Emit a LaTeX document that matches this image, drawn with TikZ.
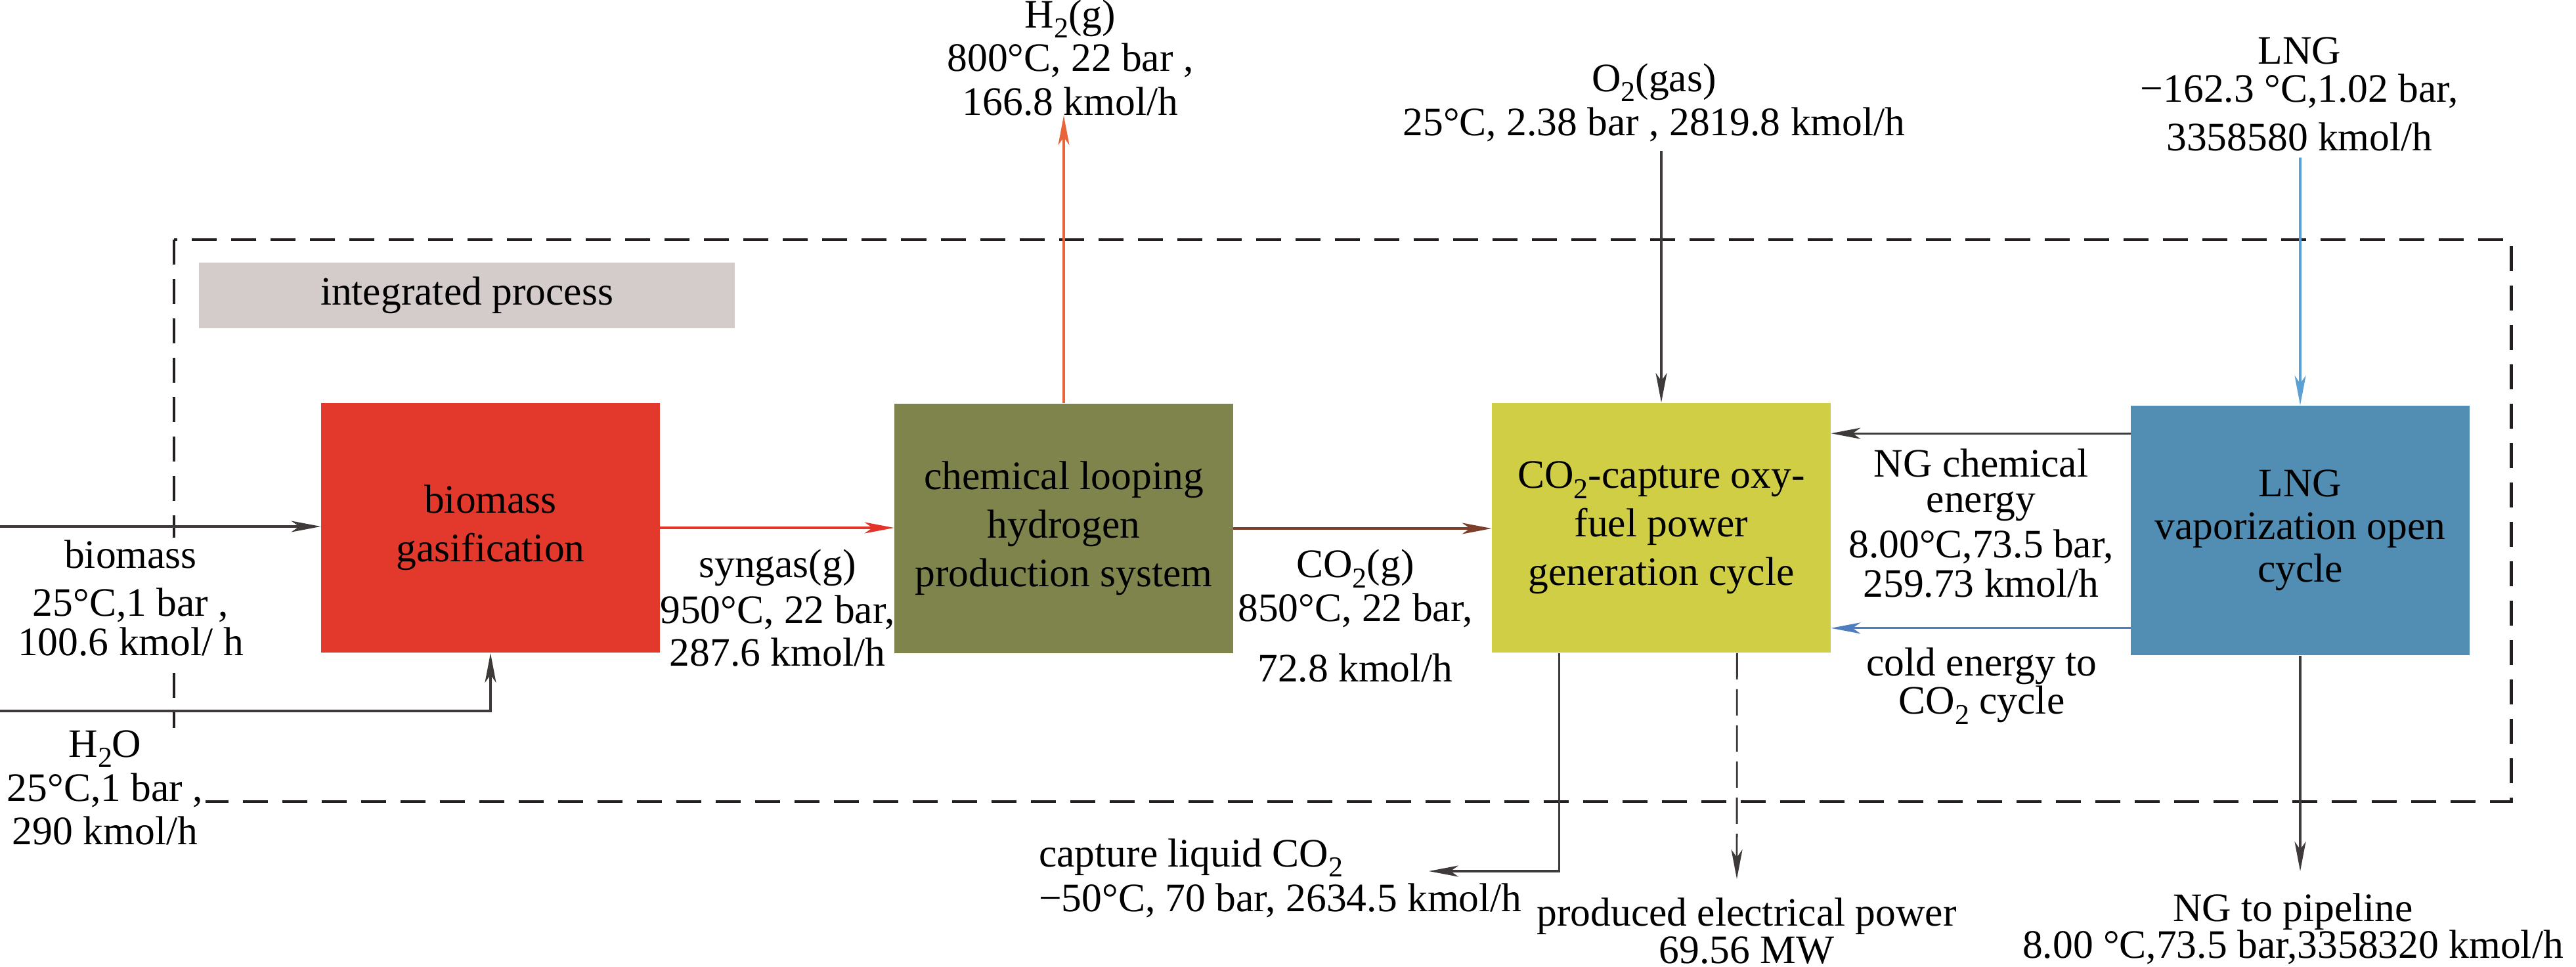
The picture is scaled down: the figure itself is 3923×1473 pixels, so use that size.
\documentclass[tikz,border=0pt]{standalone}
\usepackage{fontspec}
\setmainfont{Liberation Serif}
\usetikzlibrary{arrows.meta}
\definecolor{boxred}{RGB}{227,57,45}
\definecolor{boxolive}{RGB}{126,132,76}
\definecolor{boxyellow}{RGB}{208,206,68}
\definecolor{boxblue}{RGB}{82,141,179}
\definecolor{boxgray}{RGB}{211,204,202}
\definecolor{lnred}{RGB}{228,52,42}
\definecolor{lnbrown}{RGB}{124,63,43}
\definecolor{lnorange}{RGB}{232,100,58}
\definecolor{lnlblue}{RGB}{90,160,210}
\definecolor{lnblue}{RGB}{79,126,191}
\definecolor{lndark}{RGB}{62,58,57}
\definecolor{dashc}{RGB}{35,31,32}
\newcommand{\subtwo}{\raisebox{-0.55ex}{\fontsize{12.5}{12.5}\selectfont 2}}
\tikzset{
  procbox/.style={minimum width=5.15cm, minimum height=3.8cm, inner sep=0pt, align=center, font=\fontsize{17.5}{21}\selectfont},
  lbl/.style={align=center, font=\fontsize{17.5}{19}\selectfont, inner sep=1pt},
  arr/.style={line width=0.9pt, draw=lndark, -{Stealth[length=0.45cm,width=0.17cm,inset=0.12cm]}},
  framebox/.style={line width=1.4pt, draw=dashc, dash pattern=on 0.38cm off 0.22cm},
  powerdash/.style={line width=0.8pt, draw=lndark, dash pattern=on 0.4cm off 0.15cm, -{Stealth[length=0.45cm,width=0.17cm,inset=0.12cm]}},
}
\begin{document}
\begin{tikzpicture}[x=0.01cm,y=-0.01cm]
\useasboundingbox (0,0) rectangle (3923,1473);
% frame
\draw[framebox] (265,365) rectangle (3824,1221);
\node[fill=boxgray, minimum width=8.16cm, minimum height=1.0cm, inner sep=0pt, font=\fontsize{17.5}{19}\selectfont] (ip) at (711,450) {integrated process};
% boxes
\node[procbox, fill=boxred] (gas) at (747,804) {biomass\\gasification};
\node[procbox, fill=boxolive] (clh) at (1620,805) {chemical looping\\hydrogen\\production system};
\node[procbox, fill=boxyellow] (oxy) at (2530,804) {CO\subtwo-capture oxy-\\fuel power\\generation cycle};
\node[procbox, fill=boxblue, font=\fontsize{17.5}{18.5}\selectfont] (lng) at (3503,808) {LNG\\vaporization open\\cycle};
% coordinates
\coordinate (bin) at (0,802);
\coordinate (hin) at (0,1083);
\coordinate (h2top) at (1621,176);
\coordinate (o2top) at (2530,230);
\coordinate (lngtop) at (3503,240);
\coordinate (captend) at (2176,1327);
\coordinate (pwrend) at (2645,1339);
\coordinate (pipeend) at (3503,1327);
% labels
\node[lbl] (h2lbl) at (1630,88) {H\subtwo(g)\\800°C, 22 bar ,\\166.8 kmol/h};
\node[lbl] (o2lbl) at (2519,156) {O\subtwo(gas)\\25°C, 2.38 bar , 2819.8 kmol/h};
\node[lbl] (lnglbl) at (3502,143) {LNG\\[-2.5pt]−162.3 °C,1.02 bar,\\[2pt]3358580 kmol/h};
\node[lbl, fill=white] (biolbl) at (199,911) {biomass\\[2pt]25°C,1 bar ,\\[-2pt]100.6 kmol/ h};
\node[lbl, fill=white] (h2olbl) at (160,1200) {H\subtwo O\\25°C,1 bar ,\\290 kmol/h};
\node[lbl] (synlbl) at (1184,926) {syngas(g)\\[1pt]950°C, 22 bar,\\[-0.6pt]287.6 kmol/h};
\node[lbl] (co2lbl) at (2064,938) {CO\subtwo(g)\\850°C, 22 bar,\\[7pt]72.8 kmol/h};
\node[lbl] (nglbl) at (3017,797) {NG chemical\\[-3.5pt]energy\\[0.5pt]8.00°C,73.5 bar,\\[-2pt]259.73 kmol/h};
\node[lbl] (coldlbl) at (3018,1045) {cold energy to\\[-2.5pt]CO\subtwo\ cycle};
\node[lbl, align=left, anchor=west] (captlbl) at (1578,1338) {capture liquid CO\subtwo\\[0.5pt]−50°C, 70 bar, 2634.5 kmol/h};
\node[lbl] (pwrlbl) at (2660,1418) {produced electrical power\\[-3pt]69.56 MW};
\node[lbl] (pipelbl) at (3492,1415) {NG to pipeline\\[-3pt]8.00 °C,73.5 bar,3358320 kmol/h};
% connectors
\draw[arr] (bin) -- (bin -| gas.west);
\draw[arr] (hin) -| (gas.south);
\draw[arr, draw=lnred] (gas.east) -- (gas.east -| clh.west);
\draw[arr, draw=lnbrown] (clh.east) -- (clh.east -| oxy.west);
\draw[arr, draw=lnorange] (clh.north) -- (clh.north |- h2top);
\draw[arr] (o2top) -- (oxy.north);
\draw[arr, draw=lnlblue] (lngtop) -- (lng.north);
\path (lng.north west) ++(0,43) coordinate (ngstart);
\draw[arr] (ngstart) -- (ngstart -| oxy.east);
\path (lng.south west) ++(0,-42) coordinate (coldstart);
\draw[arr, draw=lnblue] (coldstart) -- (coldstart -| oxy.east);
\path (oxy.south west) ++(103,0) coordinate (captstart);
\draw[arr] (captstart) |- (captend);
\path (oxy.south east) ++(-143,0) coordinate (pwrstart);
\draw[powerdash] (pwrstart) -- (pwrend);
\draw[arr] (lng.south) -- (pipeend);
\end{tikzpicture}
\end{document}
